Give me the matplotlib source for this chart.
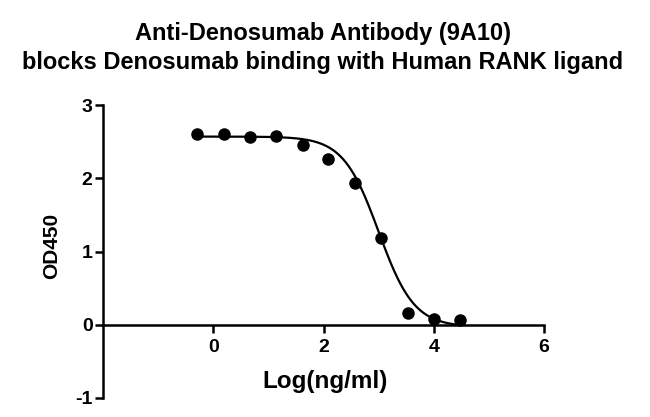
import numpy as np
import matplotlib.pyplot as plt

plt.rcParams['font.family'] = ['Liberation Sans', 'DejaVu Sans']
plt.rcParams['font.weight'] = 'bold'
plt.rcParams['axes.unicode_minus'] = False

# data
log_conc = [-0.29, 0.19, 0.66, 1.14, 1.62, 2.09, 2.57, 3.05, 3.53, 4.00, 4.48]
od450 = [2.61, 2.60, 2.56, 2.58, 2.46, 2.27, 1.94, 1.19, 0.16, 0.08, 0.06]

# 4PL fit parameters (estimated from the drawn curve)
top, bottom, log_ic50, hill = 2.57, -0.03, 3.0, 1.35

xticks = [0, 2, 4, 6]
yticks = [-1, 0, 1, 2, 3]

fig = plt.figure(figsize=(6.5, 4.17), dpi=100)
ax = fig.add_axes([0.1585, 0.0456, 0.6785, 0.7024])

xf = np.linspace(log_conc[0], log_conc[-1], 300)
yf = bottom + (top - bottom) / (1 + 10 ** ((xf - log_ic50) * hill))
ax.plot(xf, yf, color='black', lw=1.6)
ax.plot(log_conc, od450, 'o', color='black', ms=8)

ax.set_xlim(-2, 6)
ax.set_ylim(-1, 3)
ax.set_xticks(xticks)
ax.set_yticks(yticks)
ax.spines['bottom'].set_position(('data', 0))
ax.spines['top'].set_visible(False)
ax.spines['right'].set_visible(False)
for s in ['left', 'bottom']:
    ax.spines[s].set_linewidth(1.8)
ax.tick_params(axis='both', width=1.8, length=5.5, labelsize=14)
ax.tick_params(axis='x', pad=5)
ax.tick_params(axis='y', pad=2)
for lab in ax.get_xticklabels() + ax.get_yticklabels():
    lab.set_fontweight('bold')

ax.set_xlabel('Log(ng/ml)', fontsize=17.5, fontweight='bold')
ax.xaxis.set_label_coords(0.503, 0.095)
ax.set_ylabel('OD450', fontsize=15, fontweight='bold')
ax.yaxis.set_label_coords(-0.095, 0.52)

fig.text(0.497, 0.904, 'Anti-Denosumab Antibody (9A10)', ha='center', va='baseline',
         fontsize=17, fontweight='bold')
fig.text(0.497, 0.835, 'blocks Denosumab binding with Human RANK ligand', ha='center',
         va='baseline', fontsize=17, fontweight='bold')

fig.savefig('out.png', dpi=100)
